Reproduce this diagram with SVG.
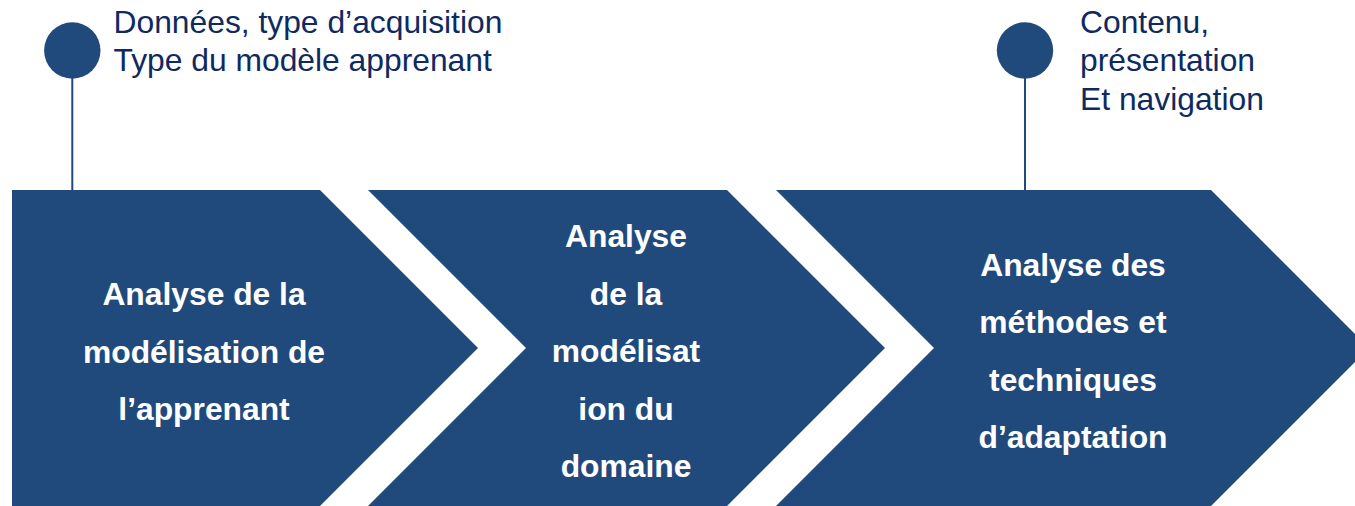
<svg xmlns="http://www.w3.org/2000/svg" width="1355" height="506" viewBox="0 0 1355 506">
<style>
.chev{fill:#214A7C}
.pin{fill:#214A7C}
.stem{stroke:#214A7C;stroke-width:2;fill:none}
.lbl{font-family:"Liberation Sans",Arial,sans-serif;font-size:31.8px;fill:#0E2A60}
.step{font-family:"Liberation Sans",Arial,sans-serif;font-size:31.8px;font-weight:bold;fill:#FFFFFF;text-anchor:middle}
</style>
<rect width="1355" height="506" fill="#FFFFFF"/>
<g id="connectors">
<line class="stem" x1="72.3" y1="78" x2="72.3" y2="190"/>
<line class="stem" x1="1025" y1="78" x2="1025" y2="190"/>
</g>
<g id="step1">
<polygon class="chev" points="12,190 320,190 478,348 320,506 12,506"/>
<text class="step" x="204" y="305">Analyse de la</text>
<text class="step" x="204" y="362.5">modélisation de</text>
<text class="step" x="204" y="420">l’apprenant</text>
</g>
<g id="step2">
<polygon class="chev" points="368,190 727,190 885,348 727,506 368,506 526,348"/>
<text class="step" x="626" y="247">Analyse</text>
<text class="step" x="626" y="304.5">de la</text>
<text class="step" x="626" y="362">modélisat</text>
<text class="step" x="626" y="419.5">ion du</text>
<text class="step" x="626" y="477">domaine</text>
</g>
<g id="step3">
<polygon class="chev" points="776,190 1211,190 1369,348 1211,506 776,506 934,348"/>
<text class="step" x="1073" y="276">Analyse des</text>
<text class="step" x="1073" y="333.3">méthodes et</text>
<text class="step" x="1073" y="390.6">techniques</text>
<text class="step" x="1073" y="447.9">d’adaptation</text>
</g>
<g id="pin1">
<circle class="pin" cx="72.3" cy="50.5" r="28.2"/>
<text class="lbl" x="113.5" y="33">Données, type d’acquisition</text>
<text class="lbl" x="113.5" y="71">Type du modèle apprenant</text>
</g>
<g id="pin2">
<circle class="pin" cx="1025" cy="50.5" r="28.2"/>
<text class="lbl" x="1080" y="32.5">Contenu,</text>
<text class="lbl" x="1080" y="71">présentation</text>
<text class="lbl" x="1080" y="110">Et navigation</text>
</g>
</svg>
